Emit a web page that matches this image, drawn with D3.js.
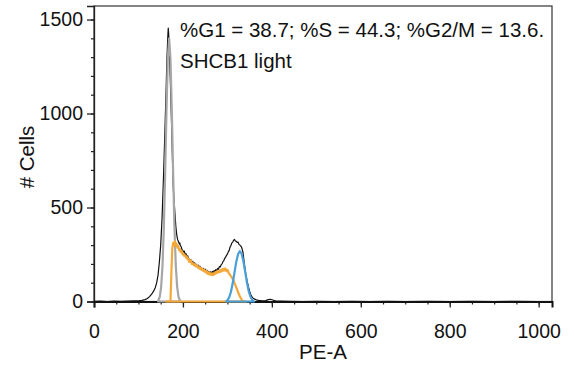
<!DOCTYPE html>
<html>
<head>
<meta charset="utf-8">
<script src="https://cdn.jsdelivr.net/npm/d3@7"></script>
<style>
  html, body { margin: 0; padding: 0; background: #fff; }
  svg { display: block; font-family: "Liberation Sans", Arial, sans-serif; }
</style>
</head>
<body>
<svg id="chart" width="574" height="367"></svg>
<script>
// Measured DNA content histogram (PE-A channel vs. cell count)
const histogram = [
  [0,1],[15,2],[30,0],[45,2],[60,1],[75,2],[90,3],[100,4],[108,6],[115,10],[120,16],[125,26],
  [130,40],[134,55],[138,75],[141,100],[144,140],[147,210],[150,300],[153,440],[156,640],[159,870],
  [162,1110],[164,1290],[166,1410],[167,1455],[168,1420],[170,1300],[172,1150],[174,980],[176,800],
  [178,620],[180,540],[182,470],[184,400],[186,356],[188,330],[190,318],[192,305],[193,312],[194,298],
  [196,292],[198,276],[200,270],[202,262],[203,268],[205,250],[207,254],[209,238],[211,242],[212,230],
  [214,226],[216,218],[218,222],[220,208],[222,214],[224,200],[226,206],[228,196],[230,198],[232,188],
  [234,194],[236,182],[238,188],[240,176],[242,180],[244,170],[246,176],[248,166],[250,172],[252,162],
  [254,166],[256,154],[258,160],[260,150],[262,158],[264,148],[266,160],[268,152],[270,164],[272,158],
  [274,170],[276,162],[278,176],[280,172],[282,186],[284,184],[286,196],[288,200],[290,212],[292,218],
  [294,230],[296,236],[298,246],[300,252],[302,264],[304,272],[306,290],[308,298],[310,312],[312,316],
  [314,326],[316,330],[318,322],[320,320],[322,314],[324,316],[326,304],[328,300],[330,296],[332,288],
  [335,262],[338,205],[341,150],[344,112],[347,80],[350,55],[353,35],[356,22],[360,14],[365,9],
  [370,6],[378,4],[386,5],[392,10],[397,12],[402,8],[408,3],[420,2],[440,1],[470,0],[500,1],[540,0],
  [580,1],[620,0],[660,1],[700,0],[750,1],[800,0],[850,1],[900,0],[950,1],[1000,0],[1020,0]
];

// Fitted cell-cycle components
const g1Fit = [
  [144,0],[148,26],[151,78],[154,188],[157,388],[160,680],[163,1015],[166,1290],[169,1400],
  [172,1290],[175,1015],[178,680],[181,388],[184,188],[187,78],[190,26],[194,0]
];
const sFit = [
  [162,0],[172,0],[174,150],[176,280],[178,312],[179,298],[180,304],[182,320],[183,300],[184,296],
  [185,310],[186,302],[188,286],[189,296],[190,288],[192,272],[193,280],[194,266],[196,262],[197,268],
  [199,252],[200,258],[202,244],[203,250],[205,240],[206,244],[208,230],[209,236],[211,224],[212,228],
  [214,210],[215,220],[217,212],[218,218],[220,200],[221,206],[223,202],[224,194],[226,198],[227,190],
  [229,196],[230,186],[232,190],[233,182],[235,186],[236,176],[238,180],[239,172],[241,178],[242,168],
  [244,172],[245,164],[247,170],[248,160],[250,164],[251,156],[253,162],[254,150],[256,156],[257,146],
  [259,154],[260,144],[262,150],[263,142],[265,150],[266,140],[268,148],[269,142],[271,154],[272,146],
  [274,156],[275,150],[277,162],[278,154],[280,160],[281,156],[283,166],[284,158],[286,168],[287,160],
  [289,172],[290,164],[292,174],[293,166],[295,176],[296,164],[298,170],[300,160],[301,166],[303,150],
  [305,146],[307,138],[310,128],[313,116],[316,98],[319,80],[322,62],[325,44],[328,28],[331,14],
  [334,5],[337,0],[343,0]
];
const g2mFit = [
  [297,0],[300,6],[304,22],[308,52],[312,98],[316,155],[320,212],[324,252],[328,268],[332,254],
  [336,214],[340,158],[344,100],[348,54],[352,24],[356,8],[360,0]
];

const xTicks = [0, 200, 400, 600, 800, 1000];
const xMinorTicks = d3.range(0, 1001, 50);
const yTicks = [0, 500, 1000, 1500];
const yMinorTicks = d3.range(0, 1501, 100);

const annotationLines = ["%G1 = 38.7; %S = 44.3; %G2/M = 13.6.", "SHCB1 light"];
const xTitle = "PE-A";
const yTitle = "# Cells";

const svg = d3.select("#chart");
const plotLeft = 94, plotRight = 552, plotTop = 6, plotBottom = 301.5;
const fontFamily = "'Liberation Sans', Arial, sans-serif";

const x = d3.scaleLinear().domain([0, 1030]).range([plotLeft, plotRight]);
const y = d3.scaleLinear().domain([0, 1572]).range([plotBottom, plotTop]);

// Plot frame
svg.append("rect")
  .attr("x", plotLeft).attr("y", plotTop)
  .attr("width", plotRight - plotLeft).attr("height", plotBottom - plotTop)
  .attr("fill", "none").attr("stroke", "#333").attr("stroke-width", 1.2);

// Minor ticks
svg.append("g")
  .attr("transform", `translate(0,${plotBottom})`)
  .call(d3.axisBottom(x).tickValues(xMinorTicks).tickSize(3).tickFormat(""))
  .call(g => g.select(".domain").remove())
  .selectAll("line").attr("stroke", "#222").attr("stroke-width", 1.2);
svg.append("g")
  .attr("transform", `translate(${plotLeft},0)`)
  .call(d3.axisLeft(y).tickValues(yMinorTicks).tickSize(3).tickFormat(""))
  .call(g => g.select(".domain").remove())
  .selectAll("line").attr("stroke", "#222").attr("stroke-width", 1.2);

// Major ticks and labels
const xAxis = svg.append("g")
  .attr("transform", `translate(0,${plotBottom})`)
  .call(d3.axisBottom(x).tickValues(xTicks).tickSize(6).tickPadding(17).tickFormat(d3.format("d")));
xAxis.select(".domain").attr("stroke", "#111").attr("stroke-width", 2);
xAxis.selectAll("line").attr("stroke", "#222").attr("stroke-width", 1.3);
xAxis.selectAll("text").attr("font-size", 19.5).attr("fill", "#111").attr("font-family", fontFamily);

const yAxis = svg.append("g")
  .attr("transform", `translate(${plotLeft},0)`)
  .call(d3.axisLeft(y).tickValues(yTicks).tickSize(7).tickPadding(4).tickFormat(d3.format("d")));
yAxis.select(".domain").attr("stroke", "#222").attr("stroke-width", 1.3);
yAxis.selectAll("line").attr("stroke", "#222").attr("stroke-width", 1.3);
yAxis.selectAll("text").attr("font-size", 19.5).attr("fill", "#111").attr("font-family", fontFamily);

// Histogram
const line = d3.line().x(d => x(d[0])).y(d => y(d[1]));
svg.append("path")
  .datum(histogram)
  .attr("d", line)
  .attr("fill", "none").attr("stroke", "#111").attr("stroke-width", 1.2)
  .attr("stroke-linejoin", "round");

// Component outlines (closed to the baseline)
const outline = d3.area().x(d => x(d[0])).y0(y(0)).y1(d => y(d[1]));
const components = [
  { data: g1Fit, color: "#a6a6a6" },
  { data: sFit, color: "#f5a83a" },
  { data: g2mFit, color: "#4a9fd8" }
];
components.forEach(c => {
  svg.append("path")
    .datum(c.data)
    .attr("d", outline)
    .attr("fill", "none").attr("stroke", c.color).attr("stroke-width", 2.2)
    .attr("stroke-linejoin", "round");
});

// Annotation
svg.append("g").selectAll("text")
  .data(annotationLines)
  .join("text")
  .attr("x", 180)
  .attr("y", (d, i) => 37 + i * 31)
  .attr("font-size", 20.5)
  .attr("fill", "#111")
  .text(d => d);

// Axis titles
svg.append("text")
  .attr("x", 323)
  .attr("y", 359)
  .attr("text-anchor", "middle")
  .attr("font-size", 20.5)
  .attr("fill", "#111")
  .text(xTitle);

svg.append("text")
  .attr("transform", `translate(34,157) rotate(-90)`)
  .attr("text-anchor", "middle")
  .attr("font-size", 20.5)
  .attr("fill", "#111")
  .text(yTitle);
</script>
</body>
</html>
